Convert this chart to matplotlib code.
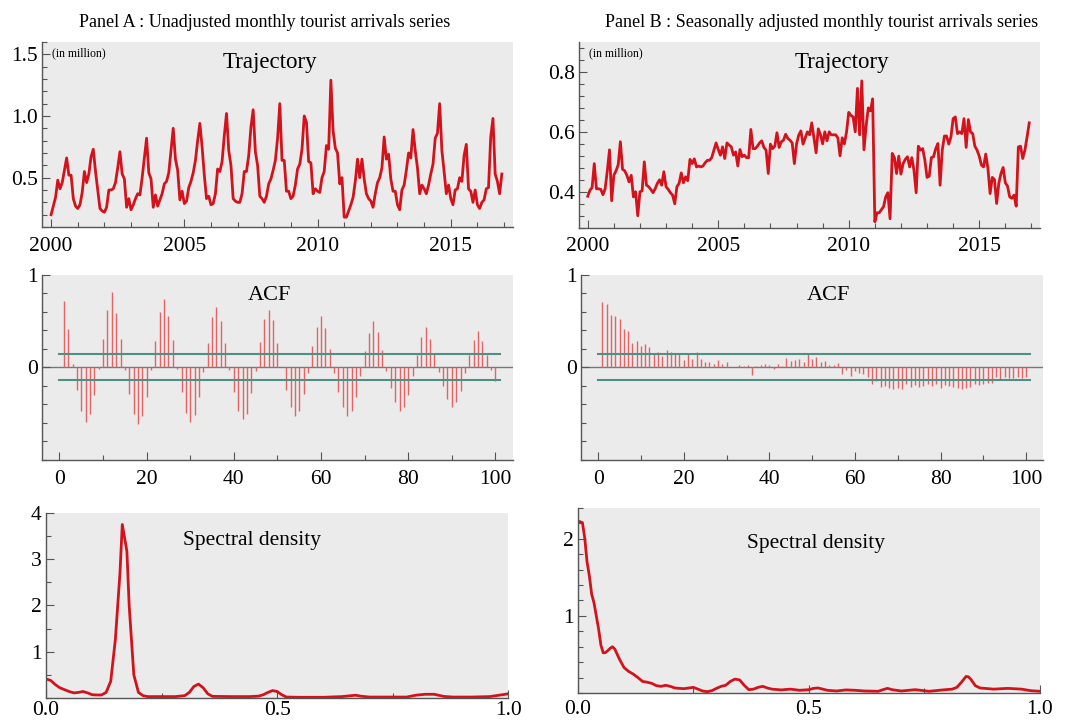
import numpy as np
import matplotlib.pyplot as plt
from matplotlib.ticker import MultipleLocator, FixedLocator

plt.rcParams['font.family'] = ['Liberation Serif', 'DejaVu Serif']

# monthly tourist arrivals (in million), Jan 2000 - Dec 2016
years = list(range(2000, 2017))

unadjusted = [
    0.20, 0.27, 0.34, 0.48, 0.41, 0.46, 0.56, 0.66, 0.52, 0.52, 0.33, 0.27,
    0.25, 0.28, 0.38, 0.55, 0.46, 0.53, 0.67, 0.73, 0.55, 0.40, 0.25, 0.23,
    0.22, 0.26, 0.40, 0.40, 0.41, 0.46, 0.58, 0.71, 0.53, 0.49, 0.26, 0.33,
    0.24, 0.28, 0.33, 0.37, 0.36, 0.50, 0.66, 0.82, 0.54, 0.49, 0.26, 0.36,
    0.27, 0.32, 0.37, 0.45, 0.47, 0.54, 0.72, 0.90, 0.65, 0.56, 0.32, 0.39,
    0.29, 0.31, 0.42, 0.47, 0.54, 0.64, 0.80, 0.94, 0.75, 0.52, 0.33, 0.35,
    0.28, 0.29, 0.37, 0.57, 0.55, 0.63, 0.84, 1.02, 0.72, 0.60, 0.33, 0.31,
    0.30, 0.30, 0.37, 0.55, 0.55, 0.68, 0.91, 1.05, 0.71, 0.60, 0.35, 0.33,
    0.30, 0.35, 0.45, 0.49, 0.56, 0.64, 0.82, 1.10, 0.64, 0.64, 0.39, 0.39,
    0.33, 0.35, 0.44, 0.57, 0.61, 0.73, 1.00, 0.95, 0.63, 0.62, 0.37, 0.41,
    0.39, 0.38, 0.50, 0.55, 0.76, 0.73, 1.29, 0.88, 0.74, 0.70, 0.45, 0.50,
    0.18, 0.18, 0.23, 0.28, 0.34, 0.47, 0.65, 0.50, 0.65, 0.49, 0.37, 0.33,
    0.31, 0.26, 0.37, 0.46, 0.50, 0.58, 0.83, 0.65, 0.69, 0.49, 0.39, 0.39,
    0.28, 0.24, 0.40, 0.44, 0.56, 0.70, 0.66, 0.89, 0.72, 0.58, 0.37, 0.44,
    0.41, 0.37, 0.44, 0.53, 0.61, 0.82, 0.86, 1.10, 0.72, 0.55, 0.37, 0.44,
    0.33, 0.28, 0.40, 0.41, 0.50, 0.47, 0.68, 0.77, 0.41, 0.39, 0.30, 0.40,
    0.28, 0.25, 0.30, 0.32, 0.41, 0.42, 0.83, 0.98, 0.53, 0.47, 0.37, 0.53,
]

adjusted = [
    0.385, 0.405, 0.414, 0.494, 0.410, 0.410, 0.408, 0.390, 0.410, 0.470, 0.540, 0.370,
    0.455, 0.470, 0.490, 0.567, 0.475, 0.470, 0.455, 0.433, 0.455, 0.383, 0.400, 0.320,
    0.400, 0.403, 0.500, 0.422, 0.417, 0.408, 0.397, 0.410, 0.428, 0.440, 0.422, 0.467,
    0.417, 0.408, 0.397, 0.389, 0.360, 0.417, 0.428, 0.463, 0.430, 0.450, 0.437, 0.508,
    0.494, 0.510, 0.483, 0.486, 0.483, 0.486, 0.497, 0.505, 0.505, 0.514, 0.539, 0.563,
    0.541, 0.522, 0.550, 0.511, 0.563, 0.556, 0.550, 0.522, 0.533, 0.486, 0.541, 0.517,
    0.522, 0.514, 0.514, 0.608, 0.544, 0.544, 0.552, 0.563, 0.570, 0.548, 0.539, 0.461,
    0.559, 0.544, 0.552, 0.597, 0.548, 0.567, 0.572, 0.592, 0.578, 0.572, 0.563, 0.494,
    0.559, 0.589, 0.603, 0.559, 0.580, 0.600, 0.590, 0.630, 0.580, 0.530, 0.610, 0.590,
    0.560, 0.600, 0.570, 0.600, 0.590, 0.590, 0.590, 0.580, 0.520, 0.580, 0.560, 0.600,
    0.665, 0.655, 0.650, 0.600, 0.745, 0.590, 0.770, 0.540, 0.620, 0.680, 0.670, 0.710,
    0.300, 0.330, 0.330, 0.340, 0.350, 0.383, 0.397, 0.310, 0.528, 0.514, 0.461, 0.519,
    0.459, 0.494, 0.508, 0.517, 0.483, 0.514, 0.472, 0.397, 0.552, 0.539, 0.544, 0.506,
    0.448, 0.452, 0.514, 0.517, 0.544, 0.561, 0.422, 0.539, 0.586, 0.586, 0.559, 0.583,
    0.644, 0.650, 0.594, 0.600, 0.594, 0.644, 0.548, 0.641, 0.600, 0.594, 0.552, 0.539,
    0.519, 0.489, 0.483, 0.526, 0.478, 0.394, 0.448, 0.441, 0.361, 0.428, 0.461, 0.481,
    0.430, 0.419, 0.383, 0.378, 0.389, 0.352, 0.550, 0.552, 0.511, 0.539, 0.583, 0.630,
]

# autocorrelations, lags 1..100
acf_lags = list(range(1, 101))
acf_unadj = [
    0.72, 0.415, 0.04, -0.245, -0.47, -0.59, -0.505, -0.30, -0.02, 0.31,
    0.62, 0.81, 0.585, 0.31, -0.03, -0.29, -0.51, -0.61, -0.53, -0.32,
    -0.03, 0.285, 0.60, 0.74, 0.55, 0.30, -0.02, -0.27, -0.49, -0.59,
    -0.52, -0.32, -0.05, 0.26, 0.54, 0.65, 0.505, 0.26, -0.03, -0.27,
    -0.47, -0.56, -0.50, -0.28, -0.04, 0.27, 0.52, 0.62, 0.51, 0.26,
    0.0, -0.245, -0.43, -0.53, -0.47, -0.29, -0.065, 0.23, 0.43, 0.55,
    0.42, 0.20, -0.06, -0.27, -0.43, -0.53, -0.47, -0.32, -0.09, 0.18,
    0.375, 0.50, 0.385, 0.19, -0.04, -0.22, -0.37, -0.47, -0.43, -0.30,
    -0.09, 0.13, 0.33, 0.43, 0.31, 0.14, -0.05, -0.20, -0.34, -0.43,
    -0.38, -0.26, -0.065, 0.13, 0.30, 0.39, 0.285, 0.13, -0.03, -0.145,
]
acf_adj = [
    0.71, 0.68, 0.57, 0.55, 0.52, 0.415, 0.39, 0.26, 0.28, 0.23,
    0.25, 0.22, 0.14, 0.165, 0.12, 0.19, 0.16, 0.145, 0.14, 0.08,
    0.145, 0.087, 0.16, 0.09, 0.06, 0.06, 0.036, 0.08, 0.036, 0.06,
    0.0, 0.007, 0.02, 0.01, 0.02, -0.08, 0.01, 0.025, 0.04, 0.025,
    -0.015, 0.036, 0.015, 0.10, 0.07, 0.08, 0.087, 0.055, 0.145, 0.09,
    0.115, 0.06, 0.07, 0.03, 0.025, 0.043, -0.07, -0.03, -0.09, -0.04,
    -0.06, -0.07, -0.10, -0.18, -0.145, -0.21, -0.20, -0.22, -0.23, -0.22,
    -0.24, -0.18, -0.21, -0.195, -0.21, -0.20, -0.18, -0.20, -0.18, -0.22,
    -0.19, -0.20, -0.21, -0.22, -0.23, -0.22, -0.21, -0.18, -0.195, -0.185,
    -0.17, -0.17, -0.11, -0.13, -0.11, -0.12, -0.12, -0.11, -0.12, -0.10,
]
conf_band = 0.14

# spectral density
spec_a_freq = [0.00, 0.01, 0.02, 0.03, 0.04, 0.05, 0.06, 0.07, 0.08, 0.09,
               0.10, 0.11, 0.12, 0.13, 0.14, 0.15, 0.16, 0.165, 0.175, 0.18,
               0.19, 0.20, 0.21, 0.22, 0.25, 0.28, 0.30, 0.31, 0.32, 0.33,
               0.34, 0.35, 0.36, 0.40, 0.44, 0.46, 0.47, 0.48, 0.49, 0.50,
               0.51, 0.52, 0.55, 0.60, 0.64, 0.66, 0.67, 0.68, 0.70, 0.74,
               0.78, 0.80, 0.82, 0.84, 0.86, 0.88, 0.92, 0.96, 0.98, 1.00]
spec_a_val = [0.41, 0.38, 0.29, 0.22, 0.18, 0.14, 0.11, 0.12, 0.14, 0.11,
              0.07, 0.065, 0.065, 0.12, 0.36, 1.26, 2.70, 3.75, 3.17, 1.98,
              0.50, 0.12, 0.05, 0.03, 0.03, 0.03, 0.05, 0.12, 0.25, 0.30,
              0.22, 0.09, 0.035, 0.03, 0.03, 0.04, 0.07, 0.12, 0.16, 0.14,
              0.07, 0.02, 0.015, 0.015, 0.03, 0.05, 0.06, 0.04, 0.02, 0.02,
              0.02, 0.06, 0.08, 0.08, 0.035, 0.02, 0.02, 0.03, 0.06, 0.09]

spec_b_freq = [0.00, 0.01, 0.015, 0.02, 0.025, 0.03, 0.035, 0.04, 0.045, 0.05,
               0.055, 0.06, 0.065, 0.07, 0.075, 0.08, 0.09, 0.10, 0.11, 0.12,
               0.13, 0.14, 0.15, 0.16, 0.17, 0.18, 0.19, 0.20, 0.21, 0.22,
               0.23, 0.24, 0.25, 0.26, 0.27, 0.28, 0.29, 0.30, 0.31, 0.32,
               0.33, 0.34, 0.35, 0.36, 0.37, 0.38, 0.39, 0.40, 0.41, 0.42,
               0.44, 0.46, 0.48, 0.50, 0.51, 0.52, 0.54, 0.56, 0.58, 0.60,
               0.62, 0.65, 0.66, 0.67, 0.68, 0.70, 0.73, 0.76, 0.79, 0.81,
               0.82, 0.83, 0.84, 0.845, 0.85, 0.86, 0.87, 0.90, 0.93, 0.96,
               0.98, 1.00]
spec_b_val = [2.23, 2.21, 2.01, 1.70, 1.52, 1.28, 1.17, 1.00, 0.83, 0.62,
              0.52, 0.525, 0.55, 0.58, 0.60, 0.57, 0.44, 0.33, 0.28, 0.245,
              0.20, 0.15, 0.14, 0.125, 0.095, 0.086, 0.10, 0.086, 0.065, 0.06,
              0.056, 0.065, 0.073, 0.05, 0.026, 0.017, 0.03, 0.06, 0.086, 0.10,
              0.15, 0.18, 0.17, 0.10, 0.043, 0.05, 0.073, 0.086, 0.065, 0.05,
              0.04, 0.05, 0.035, 0.043, 0.06, 0.065, 0.035, 0.026, 0.04, 0.035,
              0.026, 0.022, 0.043, 0.06, 0.043, 0.026, 0.043, 0.022, 0.04, 0.05,
              0.073, 0.14, 0.215, 0.21, 0.18, 0.095, 0.065, 0.05, 0.06, 0.05,
              0.03, 0.022]

RED = '#d4121b'
BAR = '#e26464'
TEAL = '#4f8f86'
BG = '#ebebeb'
SP = '#555555'


def style(ax, xpad=7):
    ax.set_facecolor(BG)
    ax.spines['top'].set_visible(False)
    ax.spines['right'].set_visible(False)
    for s in ['left', 'bottom']:
        ax.spines[s].set_color(SP)
        ax.spines[s].set_linewidth(1.0)
    ax.tick_params(which='both', direction='in', colors=SP, labelcolor='black',
                   labelsize=15.5, width=0.8)
    ax.tick_params(which='major', length=6)
    ax.tick_params(which='minor', length=3.5)
    ax.tick_params(axis='x', which='major', pad=xpad)
    ax.tick_params(axis='y', which='major', pad=3)


fig = plt.figure(figsize=(10.7, 7.23), dpi=100)

t = 2000 + np.arange(len(unadjusted)) / 12.0

# ---- trajectories
ax1 = fig.add_axes([0.0393, 0.686, 0.440, 0.256])
ax2 = fig.add_axes([0.541, 0.685, 0.431, 0.257])
for ax, series, ylim, maj, mnr, tx in [
        (ax1, unadjusted, (0.1, 1.6), 0.5, 0.1, 0.484),
        (ax2, adjusted, (0.28, 0.9), 0.2, 0.04, 0.57)]:
    style(ax)
    ax.plot(t, series, color=RED, lw=2.0)
    ax.set_xlim(1999.66, 2017.33)
    ax.set_ylim(*ylim)
    ax.xaxis.set_major_locator(FixedLocator([2000, 2005, 2010, 2015]))
    ax.xaxis.set_minor_locator(MultipleLocator(1))
    ax.yaxis.set_major_locator(MultipleLocator(maj))
    ax.yaxis.set_minor_locator(MultipleLocator(mnr))
    ax.yaxis.set_major_formatter(plt.FormatStrFormatter('%.1f'))
    ax.text(tx, 0.89, 'Trajectory', transform=ax.transAxes, ha='center',
            va='center', fontsize=16.5)
    ax.text(0.021, 0.94, '(in million)', transform=ax.transAxes, ha='left',
            va='center', fontsize=8.5)

fig.text(0.247, 0.969, 'Panel A : Unadjusted monthly tourist arrivals series',
         ha='center', va='center', fontsize=13.1)
fig.text(0.768, 0.969, 'Panel B : Seasonally adjusted monthly tourist arrivals series',
         ha='center', va='center', fontsize=13.1)

# ---- ACF
ax3 = fig.add_axes([0.0393, 0.364, 0.440, 0.256])
ax4 = fig.add_axes([0.543, 0.364, 0.432, 0.256])
for ax, vals, tx in [(ax3, acf_unadj, 0.484), (ax4, acf_adj, 0.535)]:
    style(ax)
    ax.axhline(0, color='#777777', lw=1.0, zorder=1)
    ax.vlines(acf_lags, 0, vals, color=BAR, lw=1.0, zorder=2)
    ax.plot([0, 101], [conf_band, conf_band], color=TEAL, lw=1.5, zorder=3)
    ax.plot([0, 101], [-conf_band, -conf_band], color=TEAL, lw=1.5, zorder=3)
    ax.set_xlim(-4, 104)
    ax.set_ylim(-1, 1)
    ax.xaxis.set_major_locator(MultipleLocator(20))
    ax.xaxis.set_minor_locator(MultipleLocator(10))
    ax.yaxis.set_major_locator(FixedLocator([0, 1]))
    ax.yaxis.set_minor_locator(MultipleLocator(0.2))
    ax.text(tx, 0.89, 'ACF', transform=ax.transAxes, ha='center',
            va='center', fontsize=16)

# ---- spectral density
ax5 = fig.add_axes([0.043, 0.0346, 0.432, 0.256])
ax6 = fig.add_axes([0.540, 0.0415, 0.432, 0.256])
for ax, fr, vals, ylim, mnr, tx, ty, xpad in [
        (ax5, spec_a_freq, spec_a_val, (0, 4), 0.5, 0.446, 0.85, 2),
        (ax6, spec_b_freq, spec_b_val, (0, 2.4), 0.2, 0.515, 0.81, 5)]:
    style(ax, xpad)
    ax.plot(fr, vals, color=RED, lw=2.0)
    ax.set_xlim(0, 1)
    ax.set_ylim(*ylim)
    ax.xaxis.set_major_locator(FixedLocator([0, 0.5, 1.0]))
    ax.xaxis.set_minor_locator(FixedLocator([0.25, 0.75]))
    ax.xaxis.set_major_formatter(plt.FormatStrFormatter('%.1f'))
    ticks = [v for v in range(1, int(ylim[1]) + 1)]
    ax.yaxis.set_major_locator(FixedLocator(ticks))
    ax.yaxis.set_minor_locator(MultipleLocator(mnr))
    ax.text(tx, ty, 'Spectral density', transform=ax.transAxes, ha='center',
            va='center', fontsize=15.5)

fig.savefig('out.png', dpi=100)
